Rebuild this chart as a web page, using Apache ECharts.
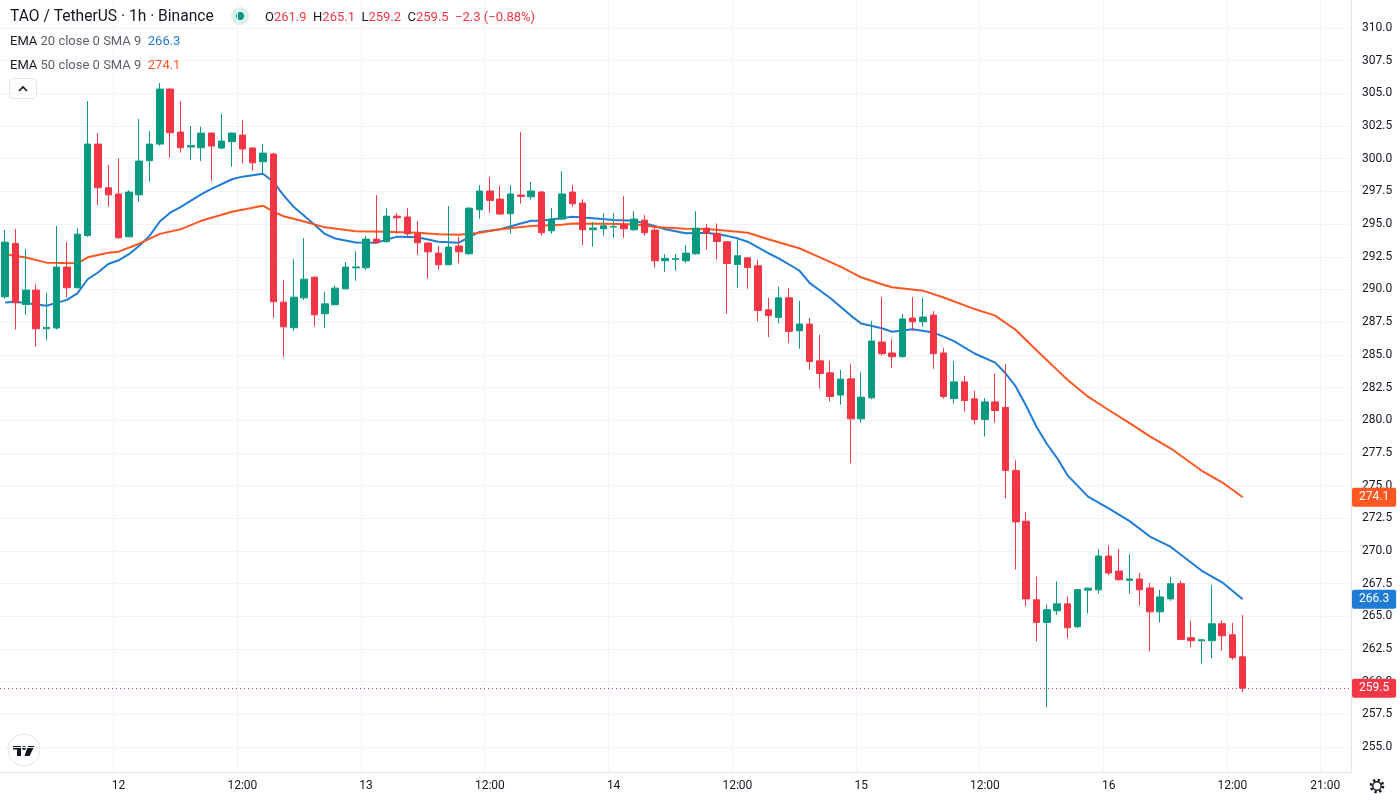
<!DOCTYPE html>
<html>
<head>
<meta charset="utf-8">
<title>TAO / TetherUS · 1h · Binance</title>
<script src="https://cdn.jsdelivr.net/npm/echarts@6.0.0/dist/echarts.min.js"></script>
<style>
  html, body { margin: 0; padding: 0; background: #ffffff; }
  #chart { width: 1400px; height: 800px; }
</style>
</head>
<body>
<div id="chart"></div>
<script>
// hourly candles, 11th 13:00 -> 16th 13:00, rows are [open, high, low, close]
const ohlc = [
  [289.44, 294.54, 289.30, 293.62], [293.52, 294.62, 286.94, 288.98], [288.85, 293.09, 288.06, 289.95],
  [289.95, 290.41, 285.61, 286.99], [286.99, 289.74, 286.12, 287.10], [287.05, 294.85, 286.94, 291.71],
  [291.71, 293.62, 289.39, 290.13], [290.13, 294.69, 290.10, 294.23], [294.13, 304.41, 294.03, 301.12],
  [301.12, 301.96, 296.45, 297.78], [297.78, 299.52, 296.33, 297.24], [297.30, 300.03, 293.90, 293.95],
  [294.03, 297.60, 294.00, 297.45], [297.24, 303.04, 296.71, 299.82], [299.85, 302.12, 298.24, 301.12],
  [301.12, 305.79, 301.00, 305.33], [305.33, 305.38, 300.08, 301.99], [302.04, 304.41, 300.46, 300.84],
  [300.90, 302.50, 299.90, 301.00], [300.84, 302.45, 299.82, 301.96], [301.96, 302.00, 298.32, 300.97],
  [300.82, 303.42, 300.74, 301.35], [301.30, 302.00, 299.39, 301.96], [301.81, 302.96, 299.64, 300.74],
  [300.82, 300.87, 299.08, 299.69], [299.77, 301.12, 298.88, 300.43], [300.36, 300.46, 287.83, 289.06],
  [289.03, 290.71, 284.85, 287.14], [287.07, 292.32, 286.84, 289.41], [289.36, 293.93, 289.20, 290.79],
  [290.94, 291.00, 287.19, 288.06], [288.14, 289.80, 287.04, 288.90], [288.83, 290.30, 288.80, 290.10],
  [290.05, 292.09, 290.00, 291.71], [291.65, 292.93, 290.66, 291.72], [291.66, 294.08, 291.50, 293.85],
  [293.85, 297.22, 293.50, 293.57], [293.65, 296.22, 293.60, 295.61], [295.61, 295.84, 294.26, 295.48],
  [295.54, 296.22, 294.10, 294.26], [294.26, 295.23, 292.65, 293.57], [293.55, 293.60, 290.82, 292.88],
  [292.78, 293.32, 291.50, 291.89], [291.89, 296.38, 291.85, 293.24], [293.32, 294.01, 292.00, 292.88],
  [292.73, 296.28, 292.65, 296.22], [296.10, 297.98, 295.41, 297.53], [297.53, 298.60, 295.87, 296.81],
  [296.91, 297.91, 295.70, 295.77], [295.79, 297.98, 294.26, 297.30], [297.22, 302.04, 296.56, 297.12],
  [297.09, 298.22, 296.86, 297.53], [297.45, 297.53, 294.11, 294.34], [294.49, 296.22, 294.26, 295.38],
  [295.38, 299.06, 295.30, 297.30], [297.45, 297.98, 296.33, 296.56], [296.61, 296.91, 293.39, 294.57],
  [294.57, 295.15, 293.27, 294.70], [294.64, 295.84, 294.11, 294.87], [294.77, 295.84, 293.95, 294.82],
  [294.95, 297.14, 293.95, 294.64], [294.57, 295.99, 294.50, 295.38], [295.30, 295.69, 294.11, 294.34],
  [294.54, 294.92, 291.68, 292.19], [292.19, 292.70, 291.35, 292.37], [292.30, 292.70, 291.43, 292.35],
  [292.19, 293.39, 292.04, 292.78], [292.73, 295.99, 292.65, 294.69], [294.69, 295.00, 293.04, 294.29],
  [294.29, 295.05, 292.27, 293.67], [293.65, 293.70, 288.14, 291.99], [291.91, 293.85, 290.13, 292.58],
  [292.42, 292.45, 290.05, 291.68], [291.81, 292.27, 287.55, 288.39], [288.44, 289.36, 286.35, 288.01],
  [287.86, 290.20, 287.42, 289.36], [289.36, 290.13, 285.89, 286.79], [286.84, 289.13, 285.46, 287.35],
  [287.35, 287.83, 283.85, 284.49], [284.54, 286.53, 282.42, 283.57], [283.62, 284.54, 281.44, 281.81],
  [281.92, 283.85, 281.17, 283.14], [283.16, 284.31, 276.71, 280.10], [280.10, 283.67, 279.80, 281.76],
  [281.71, 287.60, 281.60, 286.05], [285.98, 289.41, 284.94, 285.09], [285.14, 286.18, 283.99, 284.86],
  [284.86, 288.12, 284.80, 287.74], [287.81, 289.41, 286.84, 287.53], [287.53, 289.34, 287.15, 287.89],
  [288.04, 288.35, 283.92, 285.09], [285.14, 285.52, 281.66, 281.81], [281.65, 284.53, 281.27, 282.93],
  [282.93, 283.38, 280.66, 281.50], [281.63, 282.24, 279.67, 280.05], [280.05, 281.70, 278.75, 281.40],
  [281.40, 283.56, 279.82, 280.74], [280.97, 284.30, 274.02, 276.16], [276.16, 276.92, 268.57, 272.22],
  [272.27, 272.98, 265.75, 266.33], [266.26, 268.03, 263.08, 264.53], [264.53, 265.90, 258.06, 265.50],
  [265.42, 267.68, 265.11, 265.95], [265.95, 266.52, 263.30, 264.12], [264.20, 267.10, 264.10, 267.03],
  [267.00, 267.20, 265.21, 267.15], [267.02, 270.14, 266.73, 269.61], [269.61, 270.44, 268.16, 268.31],
  [268.46, 270.14, 267.73, 267.80], [267.75, 269.76, 266.73, 267.85], [267.85, 268.31, 265.82, 267.02],
  [267.17, 267.56, 262.32, 265.34], [265.34, 267.02, 264.52, 266.48], [266.33, 268.03, 266.18, 267.49],
  [267.49, 267.71, 263.20, 263.23], [263.36, 264.66, 262.62, 263.13], [263.13, 263.20, 261.38, 263.20],
  [263.13, 267.40, 261.78, 264.43], [264.43, 264.66, 262.39, 263.51], [263.59, 264.50, 261.68, 261.84],
  [261.90, 265.10, 259.20, 259.50]
];

// EMA lines: [candle index, value]
const ema20 = [
  [0, 289.0], [1, 289.06], [4, 288.75], [6, 289.2], [7, 289.7], [8, 290.78], [9, 291.3], [10, 291.95],
  [11, 292.23], [12, 292.7], [13, 293.35], [14, 294.1], [15, 295.2], [16, 295.87], [17, 296.3],
  [19, 297.28], [20, 297.7], [22, 298.43], [23, 298.63], [25, 298.85], [26, 298.24], [27, 297.2],
  [28, 296.3], [30, 294.95], [31, 294.25], [32, 293.9], [34, 293.6], [36, 293.58], [38, 294.04],
  [40, 293.99], [42, 293.65], [44, 293.58], [45, 294.0], [46, 294.4], [48, 294.6], [50, 295.05],
  [51, 295.25], [52, 295.26], [55, 295.57], [57, 295.44], [59, 295.31], [61, 295.26], [63, 294.85],
  [64, 294.6], [66, 294.3], [68, 294.34], [70, 294.1], [71, 293.91], [72, 293.65], [74, 292.77],
  [75, 292.38], [77, 291.45], [78, 290.5], [80, 289.35], [81, 288.68], [82, 288.0], [83, 287.4],
  [85, 287.03], [86, 286.77], [88, 286.95], [90, 286.7], [91, 286.39], [92, 286.05], [94, 285.1],
  [96, 284.4], [97, 283.59], [98, 282.56], [99, 281.1], [100, 279.5], [101, 278.2], [102, 277.1],
  [103, 275.8], [105, 274.15], [107, 273.25], [109, 272.3], [111, 271.1], [113, 270.32], [116, 268.5],
  [118, 267.6], [120, 266.3]
];
const ema50 = [
  [0, 292.7], [2, 292.45], [4, 292.05], [7, 292.0], [8, 292.46], [10, 292.8], [11, 292.89], [13, 293.5],
  [15, 294.25], [17, 294.6], [19, 295.25], [22, 295.95], [25, 296.41], [26, 295.95], [27, 295.6],
  [29, 295.2], [31, 294.75], [34, 294.45], [37, 294.42], [40, 294.34], [42, 294.22], [44, 294.19],
  [46, 294.34], [48, 294.6], [51, 294.85], [54, 294.95], [55, 295.05], [58, 295.02], [61, 294.98],
  [63, 294.78], [66, 294.65], [68, 294.62], [70, 294.49], [72, 294.34], [74, 293.84], [77, 293.15],
  [79, 292.45], [81, 291.74], [83, 290.93], [85, 290.4], [86, 290.17], [89, 289.91], [91, 289.38],
  [94, 288.5], [96, 288.0], [98, 286.9], [100, 285.35], [102, 283.85], [103, 283.1], [105, 281.8],
  [107, 280.78], [109, 279.8], [111, 278.76], [113, 277.85], [116, 276.15], [118, 275.25], [120, 274.1]
];

// time axis labels: [category index, text]
const tickLabels = [
  [11, '12'], [23, '12:00'], [35, '13'], [47, '12:00'], [59, '14'], [71, '12:00'],
  [83, '15'], [95, '12:00'], [107, '16'], [119, '12:00'], [128, '21:00']
];

const lastPrice = 259.5;
const lastEma20 = 266.3;
const lastEma50 = 274.1;
const emptyHours = 10; // blank space right of the last candle

const UP = '#089981';
const DOWN = '#F23645';
const BLUE = '#1E7BD6';
const ORANGE = '#FF5722';
const TEXT = '#131722';
const GRID = '#f0f3fa';
const FONT = 'Roboto, "Noto Sans", sans-serif';

const categories = [];
for (let i = 0; i < ohlc.length + emptyHours; i++) {
  const h = 13 + i;
  categories.push((11 + Math.floor(h / 24)) + ' ' + String(h % 24).padStart(2, '0') + ':00');
}
const tickMap = new Map(tickLabels);

// price box on the right scale, drawn as a markLine end label
function priceTag(value, bg, lineStyle) {
  return {
    silent: true,
    symbol: ['none', 'none'],
    data: [{ yAxis: value }],
    lineStyle: lineStyle,
    label: {
      show: true,
      position: 'end',
      distance: 1,
      formatter: value.toFixed(1),
      color: '#ffffff',
      backgroundColor: bg,
      padding: [4, 7, 3, 7],
      borderRadius: 2,
      fontSize: 12,
      fontFamily: FONT
    }
  };
}
const hidden = { color: 'rgba(0,0,0,0)', width: 0 };

const chart = echarts.init(document.getElementById('chart'));

chart.setOption({
  animation: false,
  backgroundColor: '#ffffff',
  textStyle: { fontFamily: FONT },
  title: [
    {
      text: 'TAO / TetherUS · 1h · Binance',
      left: 10, top: 9, padding: 0,
      textStyle: { fontSize: 15.6, fontWeight: 'normal', color: TEXT, fontFamily: FONT }
    },
    {
      text: 'O{v|261.9}  H{v|265.1}  L{v|259.2}  C{v|259.5}  {v|−2.3 (−0.88%)}',
      left: 265, top: 11, padding: 0,
      textStyle: {
        fontSize: 13, fontWeight: 'normal', color: TEXT, fontFamily: FONT,
        rich: { v: { fontSize: 13, color: DOWN, fontFamily: FONT } }
      }
    },
    {
      text: 'EMA {p|20 close 0 SMA 9}  {b|' + lastEma20.toFixed(1) + '}',
      left: 10, top: 35, padding: 0,
      textStyle: {
        fontSize: 13, fontWeight: 'normal', color: TEXT, fontFamily: FONT,
        rich: { p: { fontSize: 13, color: '#5d606b', fontFamily: FONT }, b: { fontSize: 13, color: BLUE, fontFamily: FONT } }
      }
    },
    {
      text: 'EMA {p|50 close 0 SMA 9}  {o|' + lastEma50.toFixed(1) + '}',
      left: 10, top: 59, padding: 0,
      textStyle: {
        fontSize: 13, fontWeight: 'normal', color: TEXT, fontFamily: FONT,
        rich: { p: { fontSize: 13, color: '#5d606b', fontFamily: FONT }, o: { fontSize: 13, color: ORANGE, fontFamily: FONT } }
      }
    }
  ],
  graphic: [
    { type: 'circle', shape: { cx: 240, cy: 16, r: 9 }, style: { fill: 'rgba(8,153,129,0.15)' }, silent: true },
    { type: 'circle', shape: { cx: 240, cy: 16, r: 4 }, style: { fill: UP }, silent: true },
    { type: 'rect', shape: { x: 9.5, y: 78.5, width: 27, height: 20, r: 4 }, style: { fill: '#ffffff', stroke: '#e0e3eb', lineWidth: 1 }, silent: true },
    { type: 'polyline', shape: { points: [[19, 91], [23, 87], [27, 91]] }, style: { stroke: TEXT, lineWidth: 1.6, fill: null }, silent: true },
    // TradingView badge
    { type: 'circle', shape: { cx: 24, cy: 750, r: 16 }, style: { fill: '#ffffff', stroke: '#e0e3eb', lineWidth: 1 }, silent: true },
    { type: 'rect', shape: { x: 13, y: 746, width: 8, height: 3.5 }, style: { fill: TEXT }, silent: true },
    { type: 'rect', shape: { x: 17, y: 746, width: 4, height: 10 }, style: { fill: TEXT }, silent: true },
    { type: 'circle', shape: { cx: 24, cy: 748, r: 2 }, style: { fill: TEXT }, silent: true },
    { type: 'polygon', shape: { points: [[28, 746], [34.5, 746], [29.5, 756], [24.5, 756]] }, style: { fill: TEXT }, silent: true },
    // settings gear
    { type: 'circle', shape: { cx: 1377, cy: 786, r: 6 }, style: { fill: null, stroke: TEXT, lineWidth: 2.6, lineDash: [2.3, 2.4] }, silent: true },
    { type: 'circle', shape: { cx: 1377, cy: 786, r: 4.2 }, style: { fill: '#ffffff', stroke: TEXT, lineWidth: 1.4 }, silent: true }
  ],
  grid: [
    { left: 0, right: 49, top: 28, bottom: 53 },
    { left: 0, right: 49, top: 0, bottom: 28 }
  ],
  xAxis: [
    { type: 'category', gridIndex: 0, data: categories, show: false },
    {
      type: 'category', gridIndex: 1, data: categories,
      axisLine: { lineStyle: { color: '#e0e3eb' } },
      axisTick: { show: false },
      axisLabel: {
        interval: (i) => tickMap.has(i),
        formatter: (v, i) => tickMap.get(i) || '',
        color: TEXT, fontSize: 12, margin: 8, fontFamily: FONT
      },
      splitLine: { show: true, interval: (i) => tickMap.has(i), lineStyle: { color: GRID } }
    }
  ],
  yAxis: [
    {
      type: 'value', gridIndex: 0, position: 'right',
      min: 255, max: 310, interval: 2.5,
      axisLine: { show: false },
      axisTick: { show: false },
      axisLabel: { formatter: (v) => v.toFixed(1), color: TEXT, fontSize: 12, margin: 11, fontFamily: FONT },
      splitLine: { lineStyle: { color: GRID } }
    },
    {
      type: 'value', gridIndex: 1, position: 'right', min: 0, max: 1,
      axisLine: { show: true, lineStyle: { color: '#e0e3eb' } },
      axisTick: { show: false }, axisLabel: { show: false }, splitLine: { show: false }
    }
  ],
  series: [
    {
      name: 'EMA 20',
      type: 'line', xAxisIndex: 0, yAxisIndex: 0, z: 2,
      data: ema20, symbol: 'none', connectNulls: true,
      lineStyle: { color: BLUE, width: 2 },
      markLine: priceTag(lastEma20, BLUE, hidden)
    },
    {
      name: 'EMA 50',
      type: 'line', xAxisIndex: 0, yAxisIndex: 0, z: 2,
      data: ema50, symbol: 'none', connectNulls: true,
      lineStyle: { color: ORANGE, width: 2 },
      markLine: priceTag(lastEma50, ORANGE, hidden)
    },
    {
      name: 'TAO/USDT',
      type: 'candlestick', xAxisIndex: 0, yAxisIndex: 0, z: 3,
      barWidth: 7,
      data: ohlc.map(([o, h, l, c]) => [o, c, l, h]),
      itemStyle: { color: UP, color0: DOWN, borderColor: UP, borderColor0: DOWN, borderWidth: 1 },
      markLine: priceTag(lastPrice, DOWN, { color: DOWN, type: [1, 3], width: 1 })
    }
  ]
});
</script>
</body>
</html>
